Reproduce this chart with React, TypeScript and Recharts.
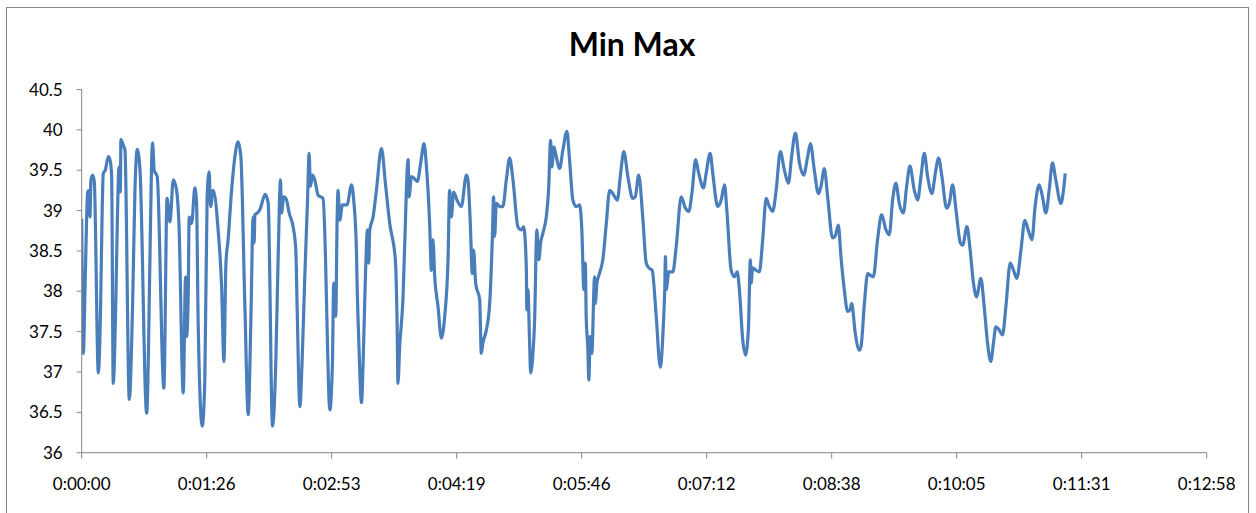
import { LineChart, Line, XAxis, YAxis } from "recharts";

// elapsed seconds and reading at each sample
const times = [
  0, 1.1, 2.3, 3.4, 4.1, 5.3, 5.7, 6.4, 7.6, 8.7, 11.5, 13.1, 14.2, 14.9, 16.3, 18.4, 19.8, 20.7, 21.8, 23.5,
  24.6, 25.8, 26.7, 27.1, 28.7, 29.9, 32.9, 35.2, 36.8, 38.4, 40.3, 44.9, 47.2, 48.3, 49.0, 50.1, 52.2, 56.8,
  59.0, 61.0, 63.3, 65.6, 67.2, 70.2, 71.8, 72.5, 73.6, 74.3, 76.0, 78.2, 79.4, 80.5, 83.3, 85.1, 86.7, 88.1,
  89.1, 90.9, 94.3, 96.7, 98.3, 99.7, 101.2, 103.6, 105.9, 108.1, 110.0, 112.8, 115.1, 116.9, 118.5, 119.2,
  119.7, 121.5, 123.1, 126.9, 128.9, 131.9, 134.2, 135.8, 137.4, 138.1, 139.7, 141.6, 143.4, 146.1, 148.0,
  148.9, 150.8, 152.3, 154.2, 156.1, 157.2, 158.1, 159.5, 161.1, 163.4, 166.8, 168.5, 169.6, 171.5, 173.3,
  174.2, 175.6, 176.5, 177.2, 178.4, 180.2, 183.4, 186.5, 188.0, 189.9, 190.3, 191.5, 193.4, 194.5, 196.1,
  197.5, 198.4, 199.1, 201.4, 203.7, 207.2, 209.9, 212.9, 216.8, 218.0, 218.6, 219.8, 222.1, 223.3, 225.6,
  226.3, 227.9, 229.7, 232.0, 234.3, 236.6, 238.3, 240.5, 241.7, 242.8, 244.0, 246.3, 248.6, 250.9, 253.2,
  254.3, 255.5, 257.1, 259.4, 262.4, 265.9, 267.0, 268.6, 270.0, 270.9, 272.3, 275.1, 276.2, 277.3, 279.7,
  282.0, 283.8, 284.7, 285.4, 286.6, 288.9, 291.1, 293.5, 295.8, 298.1, 301.5, 303.9, 305.5, 307.3, 307.7,
  308.4, 309.6, 310.3, 311.9, 313.0, 314.6, 316.0, 317.2, 318.8, 321.1, 322.7, 324.1, 325.0, 326.4, 328.0,
  330.3, 332.6, 335.4, 337.2, 339.5, 341.8, 344.1, 345.7, 347.1, 348.1, 348.7, 349.9, 350.5, 351.5, 352.6,
  354.5, 355.0, 356.1, 357.9, 360.2, 362.6, 364.9, 367.1, 370.2, 372.5, 374.7, 377.5, 380.9, 382.6, 385.0,
  387.8, 390.2, 392.0, 394.3, 397.1, 399.9, 402.1, 403.0, 403.5, 404.0, 405.8, 408.6, 410.9, 414.4, 417.3,
  419.6, 422.0, 424.3, 426.5, 429.8, 431.6, 434.4, 436.2, 439.6, 442.0, 444.3, 445.9, 448.9, 451.2, 453.1,
  454.6, 456.9, 458.8, 460.8, 462.2, 462.7, 463.8, 466.1, 468.4, 470.7, 473.1, 475.3, 477.6, 480.0, 482.9,
  485.7, 488.5, 490.7, 493.3, 496.1, 499.0, 501.8, 503.7, 506.4, 509.2, 511.0, 513.3, 515.6, 519.0, 520.7,
  523.0, 524.8, 527.1, 529.4, 531.1, 532.2, 534.7, 537.5, 538.7, 541.0, 543.3, 544.9, 547.2, 550.1, 552.9,
  555.9, 558.2, 560.5, 562.8, 565.1, 567.9, 570.2, 572.5, 575.5, 577.8, 580.1, 582.4, 584.7, 587.7, 590.0,
  592.3, 594.6, 597.8, 599.7, 602.0, 604.3, 607.3, 608.9, 611.9, 614.1, 616.4, 618.5, 621.5, 623.8, 626.1,
  628.4, 630.2, 631.9, 634.2, 636.5, 638.8, 641.8, 644.1, 646.4, 649.2, 651.9, 654.2, 656.8, 659.0, 661.8,
  664.1, 666.4, 668.7, 671.0, 673.3, 676.8, 678.6, 679.8,
];

const temps = [
  38.9, 37.23, 38.02, 38.9, 39.23, 39.25, 38.92, 39.38, 39.44, 39.36, 36.99, 37.85, 39.05, 39.46, 39.5, 39.67, 39.61, 39.42, 36.86, 37.81,
  38.84, 39.54, 39.23, 39.88, 39.81, 39.75, 36.66, 37.85, 39.25, 39.76, 39.5, 36.49, 38.43, 39.59, 39.84, 39.5, 39.42, 36.8,
  39.15, 38.86, 39.38, 39.25, 38.84, 36.74, 38.18, 37.44, 37.93, 38.92, 38.84, 39.28, 39.09, 37.61, 36.33, 36.9, 39.17, 39.48,
  39.05, 39.25, 38.76, 38.06, 37.13, 38.35, 38.64, 39.25, 39.67, 39.85, 39.67, 37.81, 36.47, 37.61, 38.92, 38.6,
  38.95, 38.97, 39.01, 39.2, 39.09, 36.33, 37.15, 38.43, 39.38, 38.97, 39.17, 39.13, 38.97, 38.8, 38.51,
  37.81, 36.57, 37.11, 38.18, 39.13, 39.71, 39.3, 39.44, 39.38, 39.19, 39.15, 38.43, 37.56, 36.53, 37.11,
  38.1, 37.69, 38.84, 39.25, 38.88, 39.07, 39.07, 39.32, 39.13, 38.51, 38.14, 37.4, 36.62, 37.11, 38.18,
  38.76, 38.35, 38.76, 38.92, 39.25, 39.77, 39.34, 38.84, 38.39, 37.61, 36.86, 37.32, 37.93, 38.6, 39.63,
  39.17, 39.42, 39.4, 39.36, 39.59, 39.83, 39.54, 38.84, 38.26, 38.64, 38.18, 37.81, 37.42, 37.69, 38.39,
  39.25, 38.92, 39.23, 39.13, 39.05, 39.44, 39.38, 38.84, 38.22, 38.51, 38.1, 37.89, 37.23, 37.36, 37.52,
  37.85, 38.64, 39.17, 38.68, 39.09, 39.05, 39.05, 39.38, 39.65, 39.38, 38.8, 38.76, 38.8, 38.31, 37.77,
  38.02, 37.36, 36.99, 37.23, 37.61, 38.76, 38.39, 38.6, 38.72, 38.92, 39.25, 39.87, 39.54, 39.79, 39.67,
  39.52, 39.75, 39.98, 39.63, 39.13, 39.05, 39.07, 38.76, 38.02, 38.35, 37.69, 37.27, 36.9, 37.44, 37.23,
  38.18, 37.85, 38.1, 38.22, 38.39, 38.84, 39.25, 39.21, 39.13, 39.46, 39.73, 39.42, 39.15, 39.17, 39.44,
  38.92, 38.35, 38.29, 38.26, 37.69, 37.06, 37.61, 38.02, 38.43, 38.02, 38.24, 38.24, 38.55, 39.17, 39.03,
  38.99, 39.25, 39.63, 39.46, 39.28, 39.46, 39.71, 39.46, 39.05, 39.13, 39.32, 39.01, 38.26, 38.18, 38.24,
  38.02, 37.4, 37.21, 37.52, 38.39, 38.1, 38.29, 38.26, 38.24, 38.64, 39.15, 39.05, 38.99, 39.25, 39.73,
  39.5, 39.34, 39.67, 39.96, 39.59, 39.44, 39.67, 39.83, 39.5, 39.21, 39.3, 39.52, 39.17, 38.66, 38.68,
  38.82, 38.43, 38.02, 37.75, 37.77, 37.85, 37.48, 37.27, 37.32, 37.85, 38.22, 38.2, 38.18, 38.64, 38.95,
  38.76, 38.7, 39.13, 39.34, 39.09, 38.97, 39.3, 39.55, 39.25, 39.13, 39.42, 39.71, 39.42, 39.21, 39.46,
  39.65, 39.42, 39.03, 39.09, 39.32, 39.01, 38.6, 38.57, 38.8, 38.51, 38.1, 37.93, 38.16, 37.81, 37.36,
  37.13, 37.36, 37.56, 37.52, 37.46, 37.81, 38.35, 38.26, 38.16, 38.51, 38.88, 38.76, 38.64, 39.05, 39.32,
  39.17, 38.97, 39.25, 39.59, 39.38, 39.09, 39.25, 39.46,
];

// Excel-style axis: 0.001 day steps (86.4 s)
const xTicks = [0, 86.4, 172.8, 259.2, 345.6, 432, 518.4, 604.8, 691.2, 777.6];
const yTicks = [36, 36.5, 37, 37.5, 38, 38.5, 39, 39.5, 40, 40.5];

const data = times.map((t, i) => ({ t, v: temps[i] }));

function fmtTime(s: number) {
  const total = Math.round(s);
  const h = Math.floor(total / 3600);
  const m = Math.floor((total % 3600) / 60);
  const sec = total % 60;
  return `${h}:${String(m).padStart(2, "0")}:${String(sec).padStart(2, "0")}`;
}

const axisColor = "#868686";
const font = "Lato, 'Noto Sans', sans-serif";

export default function App() {
  return (
    <div style={{ position: "relative", width: 1256, height: 513, overflow: "hidden", background: "#fff", fontFamily: font }}>
      <style>{"body{margin:0}"}</style>
      <div
        style={{
          position: "absolute",
          left: 6,
          top: 7,
          width: 1243,
          height: 520,
          border: `1px solid ${axisColor}`,
          boxSizing: "border-box",
        }}
      />
      <div
        style={{
          position: "absolute",
          left: 0,
          width: 1264,
          top: 24,
          textAlign: "center",
          fontSize: 32,
          fontWeight: 700,
          color: "#000",
        }}
      >
        Min Max
      </div>
      <div style={{ position: "absolute", left: 0, top: 0 }}>
        <LineChart
          width={1256}
          height={513}
          data={data}
          margin={{ top: 89.5, right: 49.3, left: 0, bottom: 0 }}
        >
          <XAxis
            dataKey="t"
            type="number"
            domain={[0, 777.6]}
            ticks={xTicks}
            tickFormatter={fmtTime}
            interval={0}
            allowDataOverflow
            height={60.3}
            stroke={axisColor}
            tickSize={6}
            tickMargin={19}
            tick={{ fill: "#000", fontSize: 17, fontFamily: font }}
          />
          <YAxis
            type="number"
            domain={[36, 40.5]}
            ticks={yTicks}
            interval={0}
            width={81.7}
            stroke={axisColor}
            tickSize={5}
            tickMargin={14}
            tick={{ fill: "#000", fontSize: 17, fontFamily: font }}
          />
          <Line
            type="monotone"
            dataKey="v"
            stroke="#4a7ebb"
            strokeWidth={3.2}
            dot={false}
            isAnimationActive={false}
          />
        </LineChart>
      </div>
    </div>
  );
}
